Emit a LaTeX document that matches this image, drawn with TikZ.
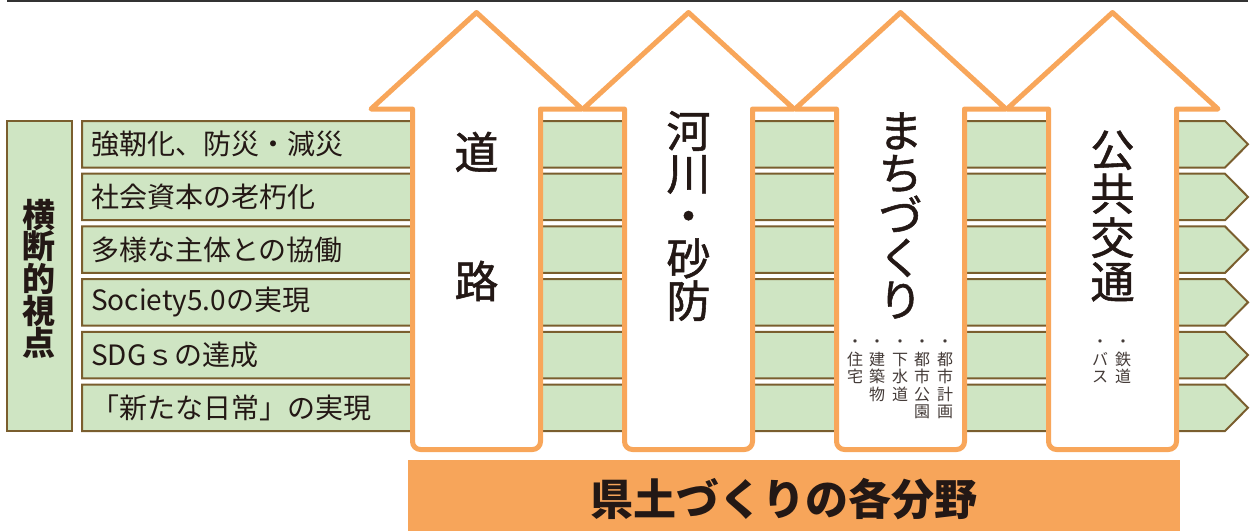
\documentclass[tikz,border=0pt]{standalone}
\usepackage{fontspec}
\setmainfont{Noto Sans CJK JP}
\newfontfamily\cjk{Noto Sans CJK JP}
\newfontfamily\cjkmed[FakeBold=1.2]{Noto Sans CJK JP}
\definecolor{grn}{HTML}{CFE5C3}
\definecolor{brn}{HTML}{7A5E2E}
\definecolor{org}{HTML}{F8A65A}
\definecolor{barc}{HTML}{F7A55A}
\definecolor{ink}{HTML}{231815}
\definecolor{topline}{HTML}{333333}
\tikzset{
  rowbox/.style={draw=brn, fill=grn, line width=2pt, line join=miter},
  sidebox/.style={draw=brn, fill=grn, line width=2pt},
  arrowbox/.style={draw=org, fill=white, line width=5pt, line join=round},
  rowtext/.style={anchor=west, inner sep=0pt, text=ink, font=\cjk\fontsize{28}{28}\selectfont},
  bigtext/.style={inner sep=0pt, align=center, text=ink},
  smalltext/.style={anchor=north, inner sep=0pt, align=center, text=ink!85, font=\cjk\fontsize{16}{17.5}\selectfont},
}
\begin{document}
\begin{tikzpicture}[x=1pt,y=-1pt]
\useasboundingbox (0,0) rectangle (1250,531);
% top rule
\coordinate (tl) at (7,1);
\coordinate (tr) at (1248,1);
\draw[topline, line width=1.8pt] (tl) -- (tr);
% side box
\node[sidebox, minimum width=65pt, minimum height=310pt, inner sep=0pt] (side) at (39.5,276) {};
\node[bigtext, font=\cjk\bfseries\fontsize{33}{31.25}\selectfont] (sidet) at (39.5,279) {横\\断\\的\\視\\点};
% rows
\foreach \i in {0,...,5}{
  \pgfmathsetmacro\T{121+52.7*\i}
  \pgfmathsetmacro\M{\T+23.25}
  \pgfmathsetmacro\B{\T+46.5}
  \draw[rowbox] (82,\T) -- (1225,\T) -- (1248,\M) -- (1225,\B) -- (82,\B) -- cycle;
}
\node[rowtext] (r1) at (91,144.25) {強靭化、防災・減災};
\node[rowtext] (r2) at (91,196.95) {社会資本の老朽化};
\node[rowtext] (r3) at (91,249.65) {多様な主体との協働};
\node[rowtext] (r4) at (91,302.35) {Society5.0の実現};
\node[rowtext] (r5) at (91,355.05) {SDGｓの達成};
\node[rowtext] (r6) at (91,407.75) {「新たな日常」の実現};
% arrows
\foreach \c in {476.5,688.5,900.5,1112.5}{
  \draw[arrowbox] (\c-64,300) [rounded corners=8pt] -- (\c-64,449.5) -- (\c+64,449.5) -- (\c+64,300) [sharp corners] -- (\c+64,109) -- (\c+105.5,109) -- (\c,12.5) -- (\c-105.5,109) -- (\c-64,109) -- cycle;
}
\node[bigtext, font=\cjkmed\fontsize{44}{129}\selectfont] (a1) at (476.5,216.5) {道\\路};
\node[bigtext, font=\cjkmed\fontsize{44}{42.5}\selectfont] (a2) at (688.5,216) {河\\川\\・\\砂\\防};
\node[bigtext, font=\cjkmed\fontsize{44}{42.25}\selectfont] (a3) at (900.5,215.5) {ま\\ち\\づ\\く\\り};
\node[bigtext, font=\cjkmed\fontsize{44}{44}\selectfont] (a4) at (1112.5,216) {公\\共\\交\\通};
% small vertical texts
\node[smalltext] (s1) at (945,340) {・\\都\\市\\計\\画};
\node[smalltext] (s2) at (922,340) {・\\都\\市\\公\\園};
\node[smalltext] (s3) at (900,340) {・\\下\\水\\道};
\node[smalltext] (s4) at (877,340) {・\\建\\築\\物};
\node[smalltext] (s5) at (855,340) {・\\住\\宅};
\node[smalltext] (s6) at (1123,340) {・\\鉄\\道};
\node[smalltext] (s7) at (1100,340) {・\\バ\\ス};
% bottom bar
\node[fill=barc, minimum width=772pt, minimum height=71pt, inner sep=0pt] (bar) at (794,495.5) {};
\node[bigtext, font=\cjk\bfseries\fontsize{43}{43}\selectfont] (bart) at (784,499) {県土づくりの各分野};
\end{tikzpicture}
\end{document}
